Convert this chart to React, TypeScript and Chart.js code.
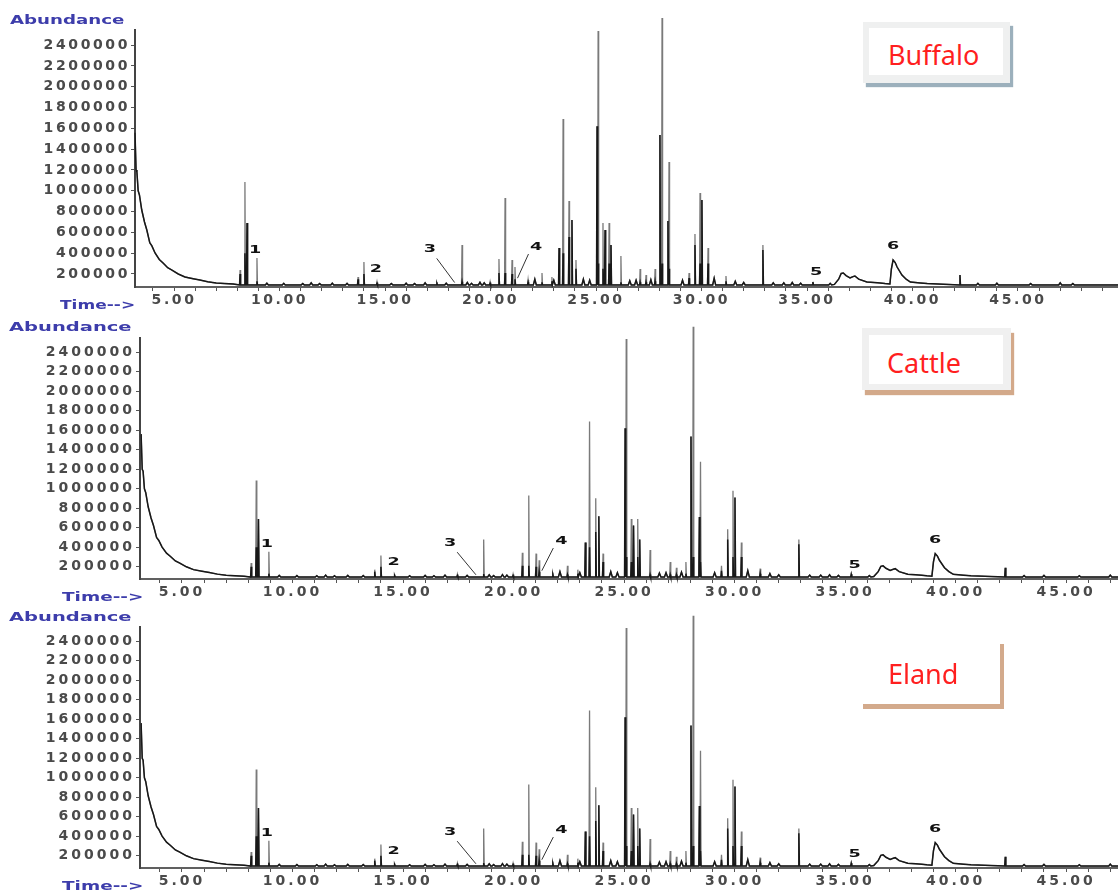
import React, { useEffect, useRef } from "react";
import { Chart, registerables } from "chart.js";

Chart.register(...registerables);

// ---------------- data ----------------
const sampleNames = ["Buffalo", "Cattle", "Eland"];

const xTickValues = [5, 10, 15, 20, 25, 30, 35, 40, 45];
const xTickLabels = ["5.00", "10.00", "15.00", "20.00", "25.00", "30.00", "35.00", "40.00", "45.00"];

const yTickValues = [200000, 400000, 600000, 800000, 1000000, 1200000, 1400000, 1600000, 1800000, 2000000, 2200000, 2400000];
const yTickLabels = ["200000", "400000", "600000", "800000", "1000000", "1200000", "1400000", "1600000", "1800000", "2000000", "2200000", "2400000"];

const yAxisMin = 75000;
const yAxisMax = 2545000;
const baselineLevel = 95000;

// solvent tail at the start of the run (time in min, abundance)
const tailTimes = [3.15, 3.2, 3.24, 3.3, 3.36, 3.47, 3.6, 3.71, 3.85, 3.95, 4.1, 4.3, 4.48, 4.7, 4.9, 5.2, 5.52, 5.9, 6.23, 6.6, 7.0, 7.4, 7.8];
const tailValues = [1560000, 1200000, 1180000, 1000000, 960000, 815000, 700000, 623000, 500000, 470000, 402000, 340000, 306000, 260000, 238000, 200000, 171000, 155000, 142000, 125000, 113000, 108000, 104000];

// sharp peaks: retention time, full height (light trace), dense core height (dark trace)
const peakTimes = [8.13, 8.36, 8.46, 8.93, 13.72, 14.0, 14.62, 17.46, 18.65, 19.98, 20.4, 20.69, 21.02, 21.16, 21.78, 22.44, 22.91, 23.25, 23.44, 23.72, 23.86, 24.05, 25.05, 25.1, 25.33, 25.43, 25.62, 25.71, 26.18, 27.09, 27.37, 27.8, 28.03, 28.13, 28.41, 28.46, 29.41, 29.69, 29.93, 30.02, 30.31, 31.16, 32.91, 35.28, 42.25];
const peakHeights = [238000, 1085000, 690000, 354000, 171000, 315000, 123000, 123000, 479000, 123000, 344000, 931000, 335000, 267000, 142000, 210000, 171000, 450000, 1690000, 902000, 719000, 335000, 1620000, 2536000, 690000, 623000, 690000, 479000, 373000, 248000, 190000, 248000, 1536000, 2660000, 710000, 1277000, 210000, 585000, 979000, 911000, 450000, 181000, 479000, 123000, 190000];
const peakCores = [200000, 400000, 690000, 130000, 150000, 200000, 110000, 110000, 125000, 110000, 210000, 210000, 200000, 150000, 120000, 120000, 130000, 450000, 400000, 556000, 719000, 250000, 1620000, 300000, 250000, 623000, 300000, 479000, 120000, 120000, 120000, 130000, 1536000, 300000, 710000, 250000, 160000, 479000, 300000, 911000, 300000, 130000, 431000, 123000, 190000];

// small baseline bumps
const bumpTimes = [9.4, 10.2, 11.1, 11.5, 11.9, 12.5, 13.2, 15.3, 16.0, 16.4, 16.9, 17.9, 18.9, 19.1, 19.5, 19.7, 22.1, 23.0, 24.4, 24.7, 26.6, 26.9, 27.6, 29.1, 30.6, 31.6, 32.0, 33.4, 33.9, 34.3, 34.7, 36.1, 43.1, 44.0, 45.6, 47.0, 47.6];
const bumpValues = [112000, 110000, 108000, 115000, 108000, 112000, 110000, 108000, 112000, 108000, 115000, 112000, 118000, 110000, 120000, 115000, 150000, 140000, 150000, 140000, 135000, 140000, 145000, 140000, 160000, 130000, 118000, 115000, 115000, 118000, 112000, 110000, 110000, 112000, 108000, 115000, 108000];

// broad late-eluting humps and peak 6 with its tail
const humpTimes = [36.3, 36.5, 36.62, 36.72, 36.85, 37.04, 37.18, 37.27, 37.45, 37.84, 38.2, 38.46, 38.7, 38.93, 39.0, 39.08, 39.18, 39.27, 39.5, 39.7, 39.9, 40.36, 40.7];
const humpValues = [100000, 150000, 205000, 210000, 185000, 162000, 175000, 181000, 150000, 123000, 118000, 114000, 108000, 104000, 250000, 335000, 310000, 267000, 190000, 150000, 123000, 114000, 108000];

const runEnd = 50;

// numbered compound labels
const peakLabelTexts = ["1", "2", "3", "4", "5", "6"];
const peakLabelTimes = [8.84, 14.57, 17.13, 22.16, 35.43, 39.08];
const peakLabelValues = [431000, 248000, 440000, 460000, 219000, 469000];

// leader lines for labels 3 and 4
const leaderFromTimes = [17.45, 21.8];
const leaderFromValues = [350000, 392000];
const leaderToTimes = [18.3, 21.28];
const leaderToValues = [118000, 160000];

// ---------------- layout (not data) ----------------
const PANELS = [
  { top: 0, height: 312, areaTop: 30, areaBottom: 287, left: 135, xMin: 3.15, xMax: 49.74, spacing: "2.6px", tickPad: 1,
    abund: { left: 10, cy: 20, sx: 1.4 }, time: { left: 60, cy: 305, sx: 1.31 } },
  { top: 308, height: 296, areaTop: 338, areaBottom: 579, left: 140, xMin: 3.1, xMax: 47.35, spacing: "3px", tickPad: 1,
    abund: { left: 9, cy: 327, sx: 1.5 }, time: { left: 62, cy: 597, sx: 1.42 } },
  { top: 597, height: 295, areaTop: 627, areaBottom: 868, left: 140, xMin: 3.1, xMax: 47.35, spacing: "3px", tickPad: 1,
    abund: { left: 9, cy: 617, sx: 1.5 }, time: { left: 62, cy: 886, sx: 1.42 } },
];

function buildTrace(heights: number[]) {
  const pts: { x: number; y: number }[] = [];
  tailTimes.forEach((t, i) => pts.push({ x: t, y: tailValues[i] }));
  peakTimes.forEach((t, i) => {
    pts.push({ x: t - 0.025, y: baselineLevel });
    pts.push({ x: t, y: heights[i] });
    pts.push({ x: t + 0.025, y: baselineLevel });
  });
  bumpTimes.forEach((t, i) => {
    pts.push({ x: t - 0.07, y: baselineLevel });
    pts.push({ x: t, y: bumpValues[i] });
    pts.push({ x: t + 0.07, y: baselineLevel });
  });
  humpTimes.forEach((t, i) => pts.push({ x: t, y: humpValues[i] }));
  pts.push({ x: runEnd, y: baselineLevel });
  pts.sort((a, b) => a.x - b.x);
  return pts;
}

const textPlugin = {
  id: "chromText",
  beforeDraw(chart: any, _a: any, opts: any) {
    chart.ctx.letterSpacing = opts.spacing || "0px";
  },
  afterDraw(chart: any) {
    const ctx = chart.ctx;
    ctx.letterSpacing = "0px";
    const xs = chart.scales.x;
    const ys = chart.scales.y;
    ctx.save();
    ctx.strokeStyle = "#333";
    ctx.lineWidth = 1;
    leaderFromTimes.forEach((t, i) => {
      ctx.beginPath();
      ctx.moveTo(xs.getPixelForValue(t), ys.getPixelForValue(leaderFromValues[i]));
      ctx.lineTo(xs.getPixelForValue(leaderToTimes[i]), ys.getPixelForValue(leaderToValues[i]));
      ctx.stroke();
    });
    ctx.restore();
    peakLabelTexts.forEach((s, i) => {
      ctx.save();
      ctx.translate(xs.getPixelForValue(peakLabelTimes[i]), ys.getPixelForValue(peakLabelValues[i]));
      ctx.scale(1.6, 1);
      ctx.font = 'bold 11px "DejaVu Sans"';
      ctx.fillStyle = "#111";
      ctx.textAlign = "center";
      ctx.textBaseline = "middle";
      ctx.fillText(s, 0, 0);
      ctx.restore();
    });
  },
};

function makeChart(canvas: HTMLCanvasElement, p: any) {
  const outer = buildTrace(peakHeights);
  const core = buildTrace(peakCores);
  const tickFont = { family: "DejaVu Sans", size: 14, weight: "bold" as const };
  return new Chart(canvas, {
    type: "line",
    data: {
      datasets: [
        { label: "core", data: core, borderColor: "#181818", borderWidth: 1.5, pointRadius: 0, tension: 0, clip: false as any, order: 1 },
        { label: "trace", data: outer, borderColor: "#7a7a7a", borderWidth: 1.3, pointRadius: 0, tension: 0, clip: false as any, order: 2 },
      ],
    },
    options: {
      responsive: false,
      animation: false,
      devicePixelRatio: 1,
      events: [],
      layout: { padding: { top: p.areaTop - p.top, left: 0, right: 0, bottom: 0 } },
      plugins: {
        legend: { display: false },
        tooltip: { enabled: false },
        chromText: { spacing: p.spacing },
      } as any,
      scales: {
        x: {
          type: "linear",
          min: p.xMin,
          max: p.xMax,
          afterBuildTicks: (axis: any) => {
            const t = [];
            for (let m = Math.ceil(axis.min); m <= Math.floor(axis.max); m++) t.push({ value: m });
            axis.ticks = t;
          },
          afterFit: (s: any) => {
            s.height = p.height - (p.areaBottom - p.top);
          },
          grid: { drawOnChartArea: false, drawTicks: true, tickLength: 4, color: "#555", lineWidth: 1 },
          border: { display: true, color: "#606060", width: 2 },
          ticks: {
            autoSkip: false,
            maxRotation: 0,
            padding: 1,
            color: "#4a4a4a",
            font: tickFont,
            callback: (v: any) => {
              const i = xTickValues.indexOf(Number(v));
              return i >= 0 ? xTickLabels[i] : "";
            },
          },
        },
        y: {
          type: "linear",
          min: yAxisMin,
          max: yAxisMax,
          afterBuildTicks: (axis: any) => {
            axis.ticks = yTickValues.map((v) => ({ value: v }));
          },
          afterFit: (s: any) => {
            s.width = p.left;
          },
          grid: { drawOnChartArea: false, drawTicks: true, tickLength: 4, color: "#555", lineWidth: 1 },
          border: { display: true, color: "#444", width: 2 },
          ticks: {
            autoSkip: false,
            padding: p.tickPad,
            color: "#4a4a4a",
            font: tickFont,
            callback: (v: any) => {
              const i = yTickValues.indexOf(Number(v));
              return i >= 0 ? yTickLabels[i] : "";
            },
          },
        },
      },
    },
    plugins: [textPlugin as any],
  });
}

const blueText = (left: number, cy: number, sx: number): React.CSSProperties => ({
  position: "absolute",
  left,
  top: cy - 8,
  height: 16,
  lineHeight: "16px",
  font: 'bold 13px "DejaVu Sans"',
  color: "#3d3dab",
  whiteSpace: "nowrap",
  transform: `scaleX(${sx})`,
  transformOrigin: "left center",
});

const nameText = (left: number, top: number): React.CSSProperties => ({
  position: "absolute",
  left,
  top,
  height: 30,
  lineHeight: "30px",
  font: '27px "Noto Sans"',
  color: "#ff1f1f",
  whiteSpace: "nowrap",
});

export default function App() {
  const r0 = useRef<HTMLCanvasElement>(null);
  const r1 = useRef<HTMLCanvasElement>(null);
  const r2 = useRef<HTMLCanvasElement>(null);
  const refs = [r0, r1, r2];

  useEffect(() => {
    const charts = PANELS.map((p, i) => makeChart(refs[i].current as HTMLCanvasElement, p));
    return () => charts.forEach((c) => c.destroy());
  }, []);

  return (
    <div style={{ position: "absolute", left: 0, top: 0, width: 1118, height: 892, background: "#fff", overflow: "hidden" }}>
      {PANELS.map((p, i) => (
        <React.Fragment key={i}>
          <canvas
            ref={refs[i]}
            width={1118}
            height={p.height}
            style={{ position: "absolute", left: 0, top: p.top, width: 1118, height: p.height }}
          />
          <div style={blueText(p.abund.left, p.abund.cy, p.abund.sx)}>Abundance</div>
          <div style={blueText(p.time.left, p.time.cy, p.time.sx)}>Time--&gt;</div>
        </React.Fragment>
      ))}

      {/* Buffalo box */}
      <div style={{ position: "absolute", left: 863, top: 22, width: 147, height: 61, background: "#eff0f0", boxShadow: "3px 4px 1px #9cb0bc" }}>
        <div style={{ position: "absolute", left: 6, top: 6, width: 134, height: 47, background: "#fff" }} />
      </div>
      <div style={nameText(888, 36)}>{sampleNames[0]}</div>

      {/* Cattle box */}
      <div style={{ position: "absolute", left: 862, top: 328, width: 149, height: 62, background: "#f0f0f0", boxShadow: "3px 5px 1px #d3a98a" }}>
        <div style={{ position: "absolute", left: 7, top: 7, width: 134, height: 49, background: "#fff" }} />
      </div>
      <div style={nameText(887, 344)}>{sampleNames[1]}</div>

      {/* Eland: shadow edges only */}
      <div style={{ position: "absolute", left: 1000, top: 644, width: 4, height: 65, background: "#d3aa8c" }} />
      <div style={{ position: "absolute", left: 863, top: 704, width: 141, height: 5, background: "#d3aa8c" }} />
      <div style={nameText(888, 655)}>{sampleNames[2]}</div>
    </div>
  );
}
